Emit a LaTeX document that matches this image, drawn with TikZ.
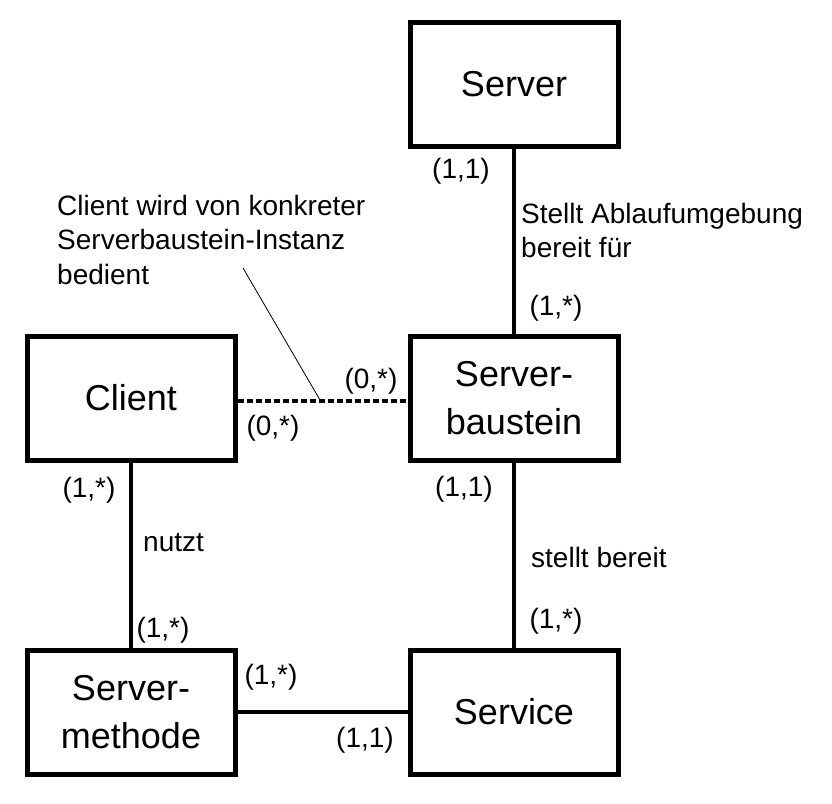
\documentclass[tikz,border=0pt]{standalone}
\usepackage{fontspec}
\setmainfont{Liberation Sans}
\usepackage{tikz}
\usetikzlibrary{positioning}

\newcommand{\boxfont}{\fontsize{36}{48}\selectfont}
\newcommand{\labfont}{\fontsize{28}{34.5}\selectfont}

\tikzset{
    entity/.style={rectangle, draw, line width=5pt, minimum width=208pt, minimum height=124pt, align=center, font=\boxfont},
    conn/.style={line width=3.5pt},
    weak/.style={line width=4pt, dash pattern=on 6pt off 3pt},
    card/.style={inner sep=0pt, font=\labfont},
    remark/.style={inner sep=0pt, font=\labfont, align=left}
}

\begin{document}
\begin{tikzpicture}[x=1pt, y=1pt]
        \useasboundingbox (0,0) rectangle (832,-803);

        \node (server) [entity] at (514,-84) {Server};
        \node (baustein) [entity, below=185pt of server] {Server-\\baustein};
        \node (client) [entity, left=170pt of baustein] {Client};
        \node (service) [entity, below=185pt of baustein] {Service};
        \node (methode) [entity, left=170pt of service] {Server-\\methode};

        \draw[conn] (server) -- (baustein);
        \draw[conn] (baustein) -- (service);
        \draw[conn] (client) -- (methode);
        \draw[conn] (methode) -- (service);
        \draw[weak] ([yshift=-3pt]client.east) -- ([yshift=-3pt]baustein.west);

        % cardinalities
        \node (c1) [card] at (461,-171) {(1,1)};
        \node (c2) [card] at (556,-308) {(1,*)};
        \node (c3) [card] at (371,-381) {(0,*)};
        \node (c4) [card] at (273,-428) {(0,*)};
        \node (c5) [card] at (89,-490) {(1,*)};
        \node (c6) [card] at (464,-489) {(1,1)};
        \node (c7) [card] at (163,-630) {(1,*)};
        \node (c8) [card] at (556,-621) {(1,*)};
        \node (c9) [card] at (271,-677) {(1,*)};
        \node (c10) [card] at (365,-740) {(1,1)};

        % relationship names
        \node (ablauf) [remark, anchor=north west] at (521,-203) {Stellt Ablaufumgebung\\bereit für};
        \node (nutzt) [card, anchor=west] at (143,-543) {nutzt};
        \node (bereit) [card, anchor=west] at (531,-557) {stellt bereit};

        % note on the dashed link
        \node (note) [remark, anchor=north west] at (57,-195) {Client wird von konkreter\\Serverbaustein-Instanz\\bedient};
        \coordinate (notefoot) at (243,-268);
        \coordinate (notetip) at (320,-400);
        \draw[line width=0.8pt] (notefoot) -- (notetip);
    \end{tikzpicture}
\end{document}
